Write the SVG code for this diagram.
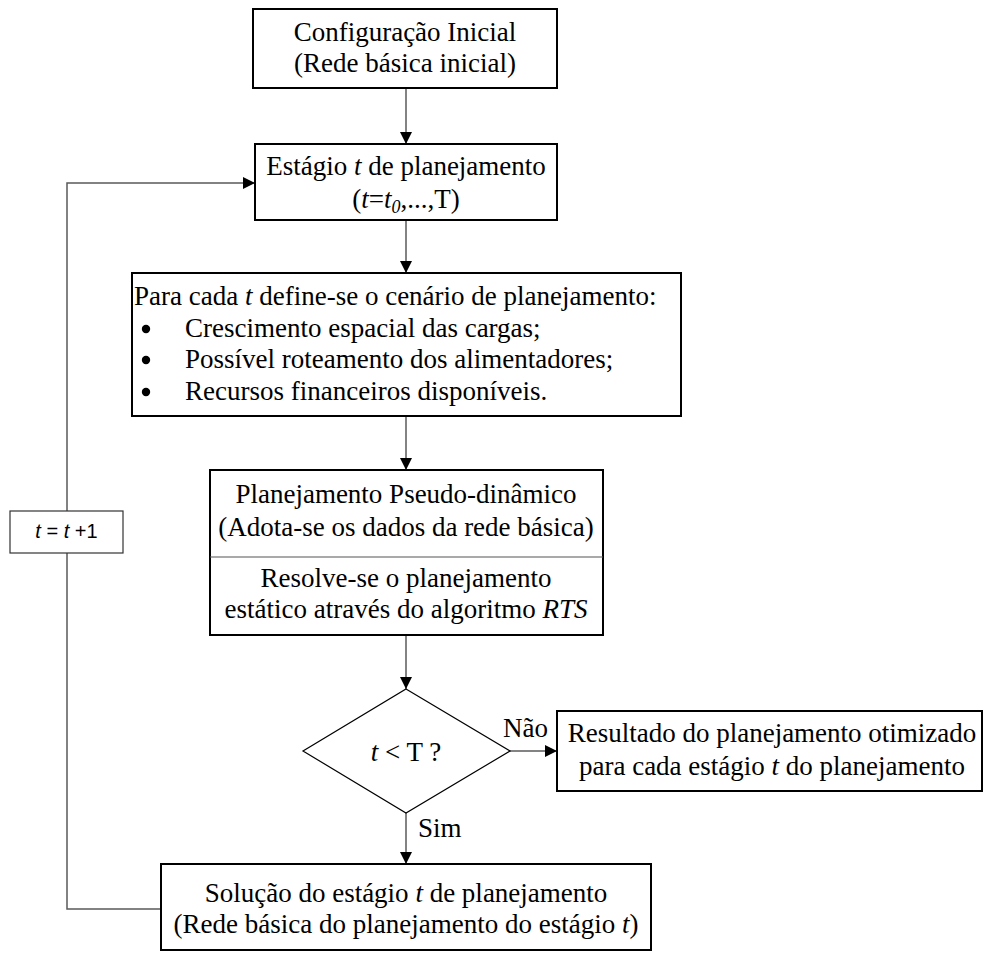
<svg xmlns="http://www.w3.org/2000/svg" width="985" height="953" viewBox="0 0 985 953">
<defs>
<style>
.box{fill:#fff;stroke:#000;stroke-width:2}
.thin{fill:#fff;stroke:#000;stroke-width:1.2}
.conn{fill:none;stroke:#5a5a5a;stroke-width:1.5}
.t{font-family:"Liberation Serif","Times New Roman",serif;font-size:27px;fill:#000}
.c{text-anchor:middle}
.i{font-style:italic}
.s{font-family:"Liberation Sans",Arial,sans-serif;font-size:20px;fill:#000}
</style>
<marker id="ah" markerUnits="userSpaceOnUse" markerWidth="12" markerHeight="12" refX="12" refY="6" orient="auto">
<path d="M0,0 L12,6 L0,12 Z" fill="#000"/>
</marker>
</defs>
<rect width="985" height="953" fill="#fff"/>

<g id="connectors">
<line class="conn" x1="406" y1="88" x2="406" y2="144" marker-end="url(#ah)"/>
<line class="conn" x1="406" y1="220" x2="406" y2="273" marker-end="url(#ah)"/>
<line class="conn" x1="406" y1="416" x2="406" y2="470" marker-end="url(#ah)"/>
<line class="conn" x1="406" y1="635" x2="406" y2="689" marker-end="url(#ah)"/>
<line class="conn" x1="510" y1="751" x2="557" y2="751" marker-end="url(#ah)"/>
<line class="conn" x1="406" y1="813" x2="406" y2="864" marker-end="url(#ah)"/>
<polyline class="conn" points="161,909 67,909 67,183 255,183" marker-end="url(#ah)"/>
<text class="t" x="503" y="737">Não</text>
<text class="t" x="418" y="837">Sim</text>
</g>

<g id="n1">
<rect class="box" x="253" y="9" width="304" height="79"/>
<text class="t c" x="405" y="41">Configuração Inicial</text>
<text class="t c" x="405" y="72">(Rede básica inicial)</text>
</g>

<g id="n2">
<rect class="box" x="255" y="144" width="302" height="76"/>
<text class="t c" x="406" y="175">Estágio <tspan class="i">t</tspan> de planejamento</text>
<text class="t c" x="406" y="208">(<tspan class="i">t</tspan>=<tspan class="i">t</tspan><tspan class="i" font-size="18" dy="5">0</tspan><tspan dy="-5">,...,T)</tspan></text>
</g>

<g id="n3">
<rect class="box" x="132" y="273" width="549" height="143"/>
<text class="t" x="134" y="305">Para cada <tspan class="i">t</tspan> define-se o cenário de planejamento:</text>
<circle cx="146" cy="329" r="4.2" fill="#000"/>
<text class="t" x="185" y="337">Crescimento espacial das cargas;</text>
<circle cx="146" cy="360" r="4.2" fill="#000"/>
<text class="t" x="185" y="368">Possível roteamento dos alimentadores;</text>
<circle cx="146" cy="392" r="4.2" fill="#000"/>
<text class="t" x="185" y="400">Recursos financeiros disponíveis.</text>
</g>

<g id="n4">
<rect class="box" x="210" y="470" width="393" height="165"/>
<line x1="210" y1="557" x2="603" y2="557" stroke="#555" stroke-width="1.2"/>
<text class="t c" x="406" y="503">Planejamento Pseudo-dinâmico</text>
<text class="t c" x="406" y="536">(Adota-se os dados da rede básica)</text>
<text class="t c" x="406" y="587">Resolve-se o planejamento</text>
<text class="t c" x="406" y="618">estático através do algoritmo <tspan class="i">RTS</tspan></text>
</g>

<g id="n5">
<polygon class="thin" points="406,689 510,751 406,813 303,751"/>
<text class="t c" x="406" y="761"><tspan class="i">t</tspan> &lt; T ?</text>
</g>

<g id="n6">
<rect class="box" x="557" y="711" width="425" height="80"/>
<text class="t c" x="772" y="742">Resultado do planejamento otimizado</text>
<text class="t c" x="772" y="775">para cada estágio <tspan class="i">t</tspan> do planejamento</text>
</g>

<g id="n7">
<rect class="box" x="161" y="864" width="490" height="86"/>
<text class="t c" x="406" y="902">Solução do estágio <tspan class="i">t</tspan> de planejamento</text>
<text class="t c" x="406" y="933">(Rede básica do planejamento do estágio <tspan class="i">t</tspan>)</text>
</g>

<g id="n8">
<rect x="10" y="511" width="113" height="42" fill="#fff" stroke="#333" stroke-width="1.2"/>
<text class="s c" x="66.5" y="538"><tspan class="i">t</tspan> = <tspan class="i">t</tspan> +1</text>
</g>
</svg>
